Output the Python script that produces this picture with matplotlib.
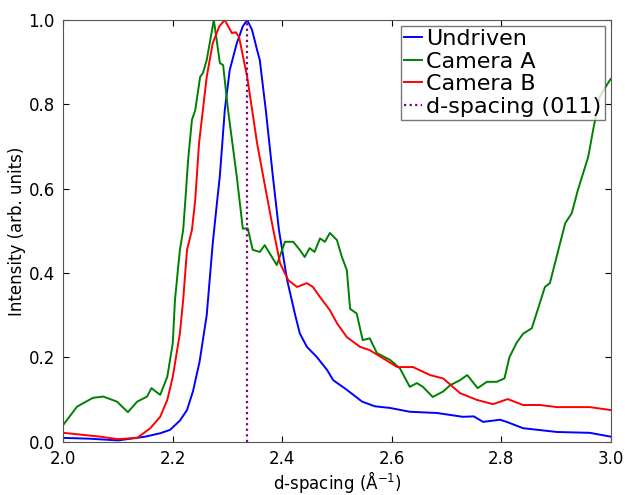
import matplotlib
matplotlib.use("Agg")
import matplotlib.pyplot as plt

# Undriven (blue)
d_undriven = [2.000, 2.050, 2.100, 2.150, 2.177, 2.195, 2.213, 2.226, 2.237, 2.249,
              2.262, 2.273, 2.281, 2.286, 2.295, 2.304, 2.317, 2.328, 2.336, 2.345,
              2.354, 2.359, 2.370, 2.383, 2.394, 2.409, 2.423, 2.432, 2.445, 2.463,
              2.482, 2.493, 2.518, 2.546, 2.569, 2.597, 2.633, 2.683, 2.730, 2.750,
              2.767, 2.798, 2.810, 2.840, 2.902, 2.962, 3.000]
i_undriven = [0.009, 0.007, 0.003, 0.012, 0.020, 0.028, 0.050, 0.075, 0.120, 0.190,
              0.300, 0.470, 0.570, 0.630, 0.786, 0.881, 0.945, 0.985, 1.000, 0.976,
              0.929, 0.905, 0.786, 0.628, 0.502, 0.383, 0.304, 0.257, 0.225, 0.201,
              0.170, 0.146, 0.123, 0.095, 0.084, 0.080, 0.071, 0.068, 0.059, 0.060,
              0.047, 0.052, 0.047, 0.032, 0.023, 0.021, 0.012]

# Camera A (green)
d_cam_a = [2.000, 2.025, 2.054, 2.067, 2.073, 2.098, 2.118, 2.135, 2.153, 2.161,
           2.177, 2.190, 2.200, 2.204, 2.213, 2.219, 2.223, 2.228, 2.235, 2.241,
           2.250, 2.255, 2.262, 2.275, 2.281, 2.286, 2.292, 2.301, 2.317, 2.328,
           2.337, 2.346, 2.359, 2.368, 2.390, 2.405, 2.420, 2.432, 2.441, 2.450,
           2.459, 2.469, 2.478, 2.487, 2.500, 2.509, 2.518, 2.524, 2.536, 2.547,
           2.560, 2.573, 2.597, 2.615, 2.633, 2.646, 2.657, 2.675, 2.694, 2.707,
           2.725, 2.738, 2.757, 2.774, 2.792, 2.806, 2.815, 2.828, 2.840, 2.856,
           2.880, 2.889, 2.917, 2.929, 2.940, 2.959, 2.968, 2.980, 2.995, 3.000]
i_cam_a = [0.040, 0.083, 0.104, 0.106, 0.107, 0.095, 0.070, 0.095, 0.107, 0.127,
           0.111, 0.154, 0.234, 0.336, 0.455, 0.502, 0.573, 0.668, 0.763, 0.786,
           0.865, 0.874, 0.905, 1.000, 0.945, 0.898, 0.893, 0.786, 0.628, 0.505,
           0.506, 0.455, 0.450, 0.466, 0.419, 0.474, 0.474, 0.455, 0.438, 0.459,
           0.450, 0.482, 0.474, 0.495, 0.478, 0.438, 0.407, 0.315, 0.304, 0.241,
           0.245, 0.210, 0.194, 0.174, 0.130, 0.139, 0.130, 0.106, 0.119, 0.134,
           0.146, 0.158, 0.127, 0.142, 0.142, 0.150, 0.200, 0.234, 0.256, 0.269,
           0.367, 0.376, 0.518, 0.542, 0.596, 0.675, 0.739, 0.818, 0.850, 0.860]

# Camera B (red)
d_cam_b = [2.000, 2.067, 2.100, 2.135, 2.159, 2.177, 2.190, 2.200, 2.213, 2.219,
           2.226, 2.235, 2.241, 2.248, 2.262, 2.273, 2.285, 2.295, 2.308, 2.315,
           2.321, 2.336, 2.354, 2.368, 2.381, 2.396, 2.411, 2.427, 2.445, 2.456,
           2.469, 2.487, 2.500, 2.518, 2.542, 2.560, 2.584, 2.610, 2.639, 2.670,
           2.694, 2.725, 2.756, 2.785, 2.812, 2.840, 2.871, 2.902, 2.962, 3.000]
i_cam_b = [0.021, 0.012, 0.006, 0.009, 0.032, 0.059, 0.099, 0.154, 0.257, 0.336,
           0.455, 0.502, 0.573, 0.708, 0.865, 0.945, 0.985, 1.000, 0.969, 0.971,
           0.960, 0.865, 0.708, 0.610, 0.520, 0.423, 0.383, 0.367, 0.376, 0.367,
           0.343, 0.312, 0.281, 0.248, 0.225, 0.217, 0.198, 0.177, 0.177, 0.158,
           0.150, 0.115, 0.099, 0.089, 0.101, 0.087, 0.087, 0.082, 0.082, 0.075]

d_011 = 2.336

fig = plt.figure(figsize=(6.25, 4.95), dpi=100)
ax = fig.add_axes([0.1013, 0.1077, 0.8757, 0.8519])

ax.plot(d_undriven, i_undriven, color='#0000ff', lw=1.4, label='Undriven')
ax.plot(d_cam_a, i_cam_a, color='#008000', lw=1.4, label='Camera A')
ax.plot(d_cam_b, i_cam_b, color='#ff0000', lw=1.4, label='Camera B')
ax.plot([d_011, d_011], [0, 1], color='#800080', lw=1.6, ls=(0, (1, 1.5)),
        label='d-spacing (011)')

ax.set_xlim(2.0, 3.0)
ax.set_ylim(0.0, 1.0)
ax.set_xticks([2.0, 2.2, 2.4, 2.6, 2.8, 3.0])
ax.set_yticks([0.0, 0.2, 0.4, 0.6, 0.8, 1.0])
ax.tick_params(direction='in', top=True, right=True, labelsize=12, length=4, pad=6)
for s in ax.spines.values():
    s.set_color('#555555')

ax.set_xlabel(r'd-spacing ($\mathrm{\AA}^{-1}$)', fontsize=12, labelpad=1)
ax.set_ylabel('Intensity (arb. units)', fontsize=12, labelpad=2)

leg = ax.legend(loc='upper right', fontsize=16, handlelength=0.8, handletextpad=0.2,
                labelspacing=0.12, borderpad=0.15, borderaxespad=0.25, fancybox=False)
leg.get_frame().set_edgecolor('#555555')

fig.savefig('out.png', dpi=100)
